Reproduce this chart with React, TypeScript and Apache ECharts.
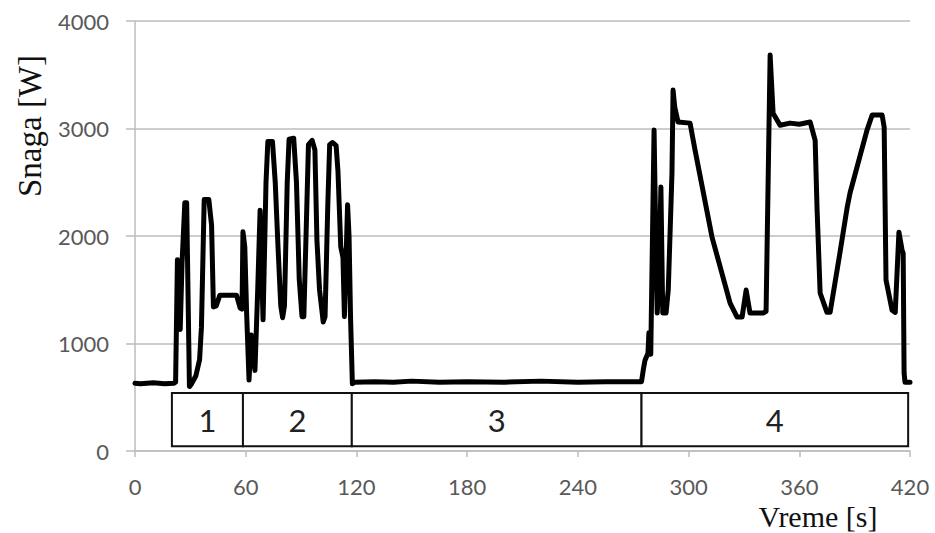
import React, { useEffect, useRef } from "react";
import * as echarts from "echarts";

const timeS: number[] = [
  0, 3, 10, 16, 21, 22, 23, 24.5, 25.5, 27, 28, 29.5, 30.5, 33, 35, 36, 37.5, 40, 41.5, 42.5, 44, 46, 50, 55, 57, 58,
  58.5, 59.5, 60.5, 61.8, 63, 65, 66.5, 67.8, 69.4, 71, 72, 74.5, 76, 77.5, 79, 80, 81, 82.5, 83.5, 86, 87.5, 89,
  90.5, 91.5, 93, 94, 96, 97.5, 98.6, 100, 102, 103, 104.5, 105.5, 107, 109, 110, 111.5, 112.7, 113.5, 115.2, 116,
  116.8, 117.8, 119, 130, 140, 150, 165, 180, 200, 220, 240, 255, 265, 274.5, 275.5, 276.4, 278, 278.5, 279.5,
  281.3, 282.5, 283, 284, 285, 286, 287.8, 289, 291, 291.6, 292.5, 294.3, 300.8, 303.5, 312.7, 322.5, 326.3, 329,
  331.2, 333.3, 340.4, 342, 344.2, 345.8, 349.6, 355, 360, 365.9, 368.6, 369.6, 371.3, 375, 376.7, 382, 386, 387.5,
  396.7, 399.5, 404.9, 406, 407, 410.3, 412, 414, 415.7, 416.3, 416.8, 417.3, 420,
];

const powerW: number[] = [
  630, 625, 635, 625, 630, 640, 1780, 1130, 1750, 2310, 2310, 600, 620, 700, 850, 1150, 2340, 2340, 2100, 1340, 1350,
  1450, 1450, 1450, 1330, 1320, 2040, 1900, 1280, 660, 1080, 750, 1500, 2240, 1220, 2500, 2880, 2880, 2500, 1900,
  1350, 1240, 1350, 2500, 2900, 2910, 2500, 1600, 1250, 1250, 2200, 2850, 2890, 2800, 1960, 1500, 1200, 1250, 2300,
  2850, 2870, 2840, 2600, 1900, 1800, 1250, 2290, 2000, 1250, 625, 640, 645, 640, 650, 640, 645, 640, 650, 640, 645,
  645, 645, 760, 845, 910, 1100, 900, 2985, 1700, 1283, 1600, 2455, 1283, 1283, 1500, 2585, 3357, 3200, 3060, 3050,
  2800, 1990, 1376, 1246, 1246, 1497, 1283, 1283, 1300, 3683, 3143, 3030, 3050, 3040, 3060, 2890, 2270, 1470, 1290,
  1290, 1840, 2270, 2400, 2985, 3125, 3125, 3013, 1590, 1310, 1290, 2035, 1870, 1840, 725, 640, 640,
];

const phaseLabels: string[] = ["1", "2", "3", "4"];
const phaseStart: number[] = [20, 58.5, 117.5, 274.5];
const phaseEnd: number[] = [58.5, 117.5, 274.5, 419];
const phaseBoxLow = 45;
const phaseBoxHigh = 540;

const xTicks = { min: 0, max: 420, interval: 60 };
const yTicks = { min: 0, max: 4000, interval: 1000 };

export default function App() {
  const ref = useRef<HTMLDivElement>(null);

  useEffect(() => {
    if (!ref.current) return;
    const chart = echarts.init(ref.current, null, { renderer: "svg" });
    const data = timeS.map((t, i) => [t, powerW[i]]);
    const boxes = phaseLabels.map((name, i) => [
      { name, xAxis: phaseStart[i], yAxis: phaseBoxLow },
      { xAxis: phaseEnd[i], yAxis: phaseBoxHigh },
    ]);
    const gray = "#bdbdbd";
    const labelColor = "#595959";
    chart.setOption({
      animation: false,
      backgroundColor: "#ffffff",
      grid: { left: 135, right: 25, top: 21, bottom: 82, containLabel: false },
      xAxis: {
        type: "value",
        min: xTicks.min,
        max: xTicks.max,
        interval: xTicks.interval,
        axisLine: { show: true, lineStyle: { color: gray, width: 1.5 } },
        axisTick: { show: true, inside: false, length: 6, lineStyle: { color: gray, width: 1.5 } },
        splitLine: { show: false },
        axisLabel: {
          color: labelColor,
          fontSize: 22,
          fontFamily: "Lato",
          margin: 24,
          formatter: (v: number) => String(v),
        },
      },
      yAxis: {
        type: "value",
        min: yTicks.min,
        max: yTicks.max,
        interval: yTicks.interval,
        axisLine: { show: true, lineStyle: { color: gray, width: 1.5 } },
        axisTick: { show: true, inside: false, length: 9, lineStyle: { color: gray, width: 1.5 } },
        splitLine: { show: true, lineStyle: { color: gray, width: 1.5 } },
        axisLabel: {
          color: labelColor,
          fontSize: 22,
          fontFamily: "Lato",
          margin: 26,
          formatter: (v: number) => String(v),
        },
      },
      graphic: [
        {
          type: "text",
          x: 30,
          y: 126,
          rotation: Math.PI / 2,
          style: {
            text: "Snaga [W]",
            font: '33px "Liberation Serif"',
            fill: "#111",
            align: "center",
            verticalAlign: "middle",
          },
        },
        {
          type: "text",
          x: 818,
          y: 516,
          style: {
            text: "Vreme [s]",
            font: '30px "Liberation Serif"',
            fill: "#111",
            align: "center",
            verticalAlign: "middle",
          },
        },
      ],
      series: [
        {
          type: "line",
          data,
          showSymbol: false,
          smooth: false,
          lineStyle: { color: "#000", width: 5, join: "round", cap: "round" },
          z: 3,
          markArea: {
            silent: true,
            itemStyle: { color: "rgba(255,255,255,1)", borderColor: "#111", borderWidth: 2 },
            label: {
              show: true,
              position: "inside",
              color: "#222",
              fontSize: 31,
              fontFamily: "Lato",
            },
            data: boxes,
          },
        },
      ],
    });
    return () => chart.dispose();
  }, []);

  return (
    <div
      ref={ref}
      style={{ position: "fixed", left: 0, top: 0, width: 935, height: 533, background: "#fff" }}
    />
  );
}
